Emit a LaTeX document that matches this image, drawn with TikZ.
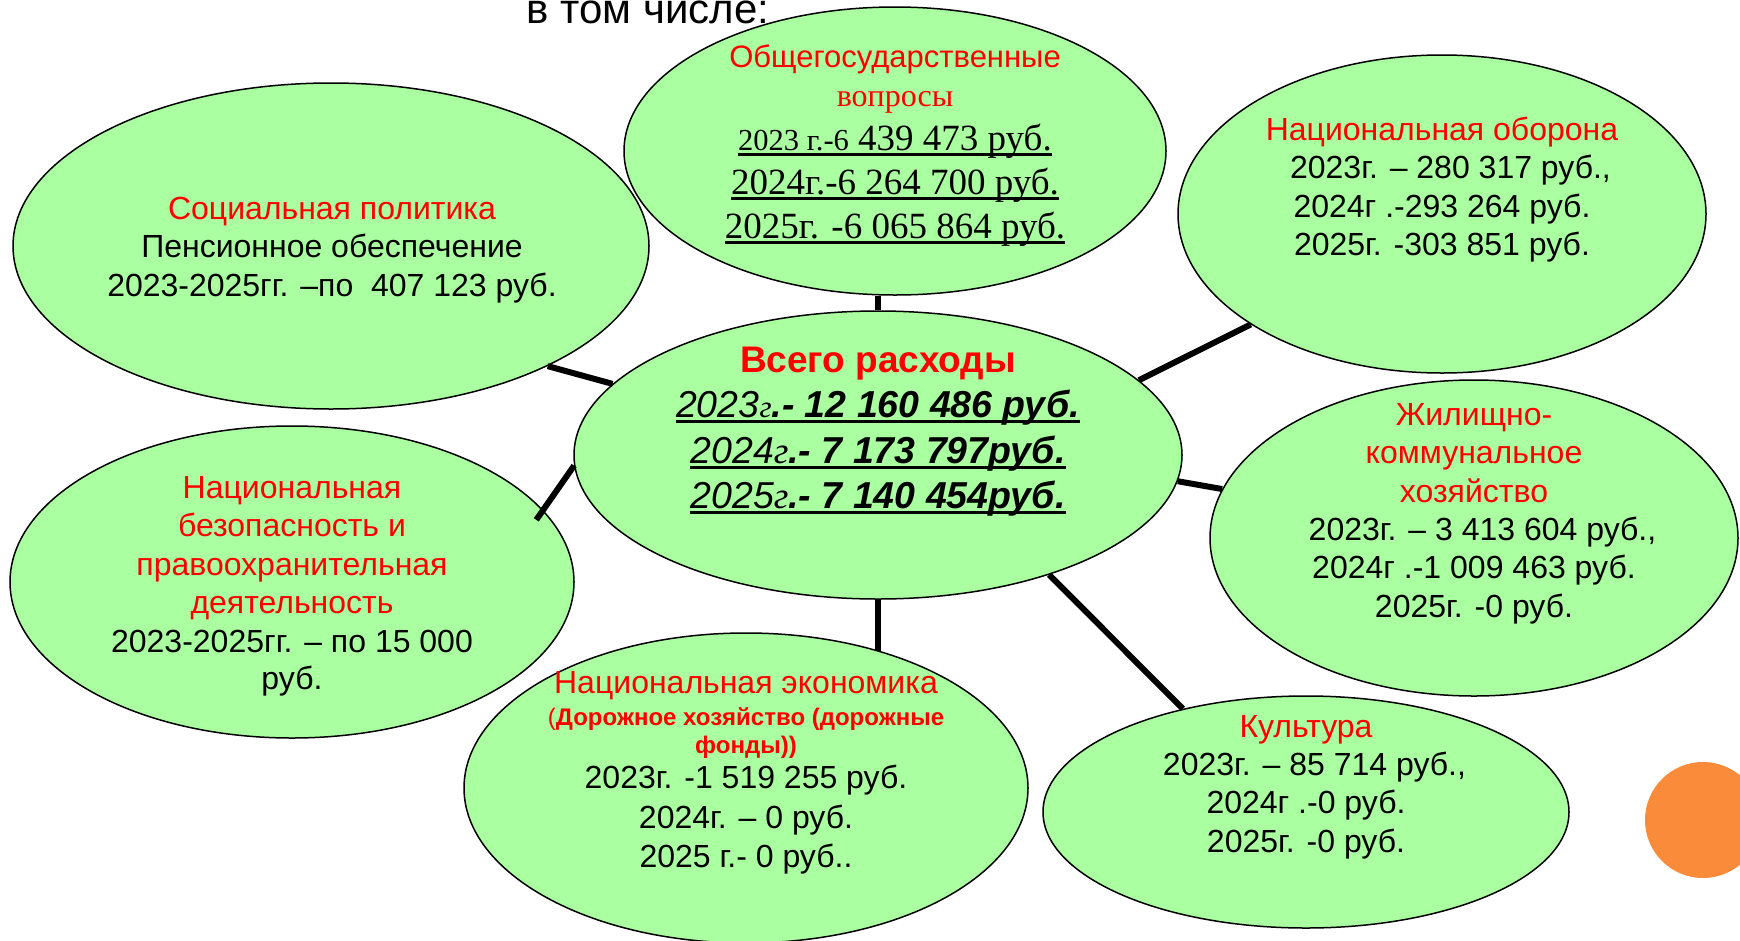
\documentclass[tikz,border=0pt]{standalone}
\usepackage{fontspec}
\setmainfont{Liberation Sans}
\newfontfamily\tmsfont{Liberation Serif}
\usetikzlibrary{shapes.geometric}
\definecolor{bubble}{HTML}{AAFFA0}
\definecolor{hdr}{HTML}{FF0000}
\definecolor{dotcol}{HTML}{F98B3A}
\newcommand\ulx[1]{\setbox0=\hbox{#1}\rlap{\rule[-0.16em]{\wd0}{0.07em}}\box0}
\begin{document}
\begin{tikzpicture}[x=1pt,y=-1pt,
  bub/.style={ellipse, draw=black, line width=1.5pt, fill=bubble, inner sep=0pt},
  ln/.style={anchor=base, inner sep=0pt, font=\fontsize{32}{38}\selectfont},
  rd/.style={text=hdr},
  link/.style={line width=6pt, black}]
\useasboundingbox (0,0) rectangle (1740,940);
\clip (0,0) rectangle (1740,940);

% bubbles
\node[bub, minimum width=636pt, minimum height=326pt] (soc) at (331,246) {};
\node[bub, minimum width=542pt, minimum height=288pt] (gen) at (895,151) {};
\node[bub, minimum width=528pt, minimum height=318pt] (def) at (1442,214) {};
\node[bub, minimum width=528pt, minimum height=316pt] (hcs) at (1474,538) {};
\node[bub, minimum width=608pt, minimum height=288pt] (tot) at (878,455) {};
\node[bub, minimum width=564pt, minimum height=312pt] (sec) at (292,582) {};
\node[bub, minimum width=564pt, minimum height=310pt] (eco) at (746,788) {};
\node[bub, minimum width=526pt, minimum height=232pt] (cul) at (1306,812) {};
\node[circle, fill=dotcol, minimum size=116pt, inner sep=0pt] (dot) at (1703,820) {};

% connectors
\draw[link] (tot.north) -- (tot.north |- gen.south);
\draw[link] (tot.south) -- (tot.south |- eco.46);
\draw[link] (soc.-29.6) -- (tot.165.7);
\draw[link] (tot.16.8) -- (def.210.6);
\draw[link, shorten <=-12pt] (sec.16.4) -- (tot.182);
\draw[link] (tot.-5.3) -- (hcs.169.9);
\draw[link] (tot.-35.9) -- (cul.140.3);

% heading
\node[ln, font=\fontsize{42}{42}\selectfont] (head) at (648,23) {в том числе:};

% social
\node[ln, rd] (s1) at (332,219) {Социальная политика};
\node[ln] (s2) at (332,257) {Пенсионное обеспечение};
\node[ln] (s3) at (332,296) {2023-2025гг. –по~~407 123 руб.};

% general
\node[ln, rd, font=\fontsize{31}{31}\selectfont] (g1) at (895,67) {Общегосударственные};
\node[ln, rd, font=\tmsfont\fontsize{32}{32}\selectfont] (g2) at (895,106) {вопросы};
\node[ln, font=\tmsfont\fontsize{37}{37}\selectfont] (g3) at (895,150) {\ulx{{\fontsize{30.5}{30}\selectfont 2023 г.-6} 439 473 руб.}};
\node[ln, font=\tmsfont\fontsize{37}{37}\selectfont] (g4) at (895,194) {\ulx{2024г.-6 264 700 руб.}};
\node[ln, font=\tmsfont\fontsize{37}{37}\selectfont] (g5) at (895,238) {\ulx{2025г. -6 065 864 руб.}};

% defense
\node[ln, rd] (d1) at (1442,140) {Национальная оборона};
\node[ln] (d2) at (1442,178) {\hspace*{17pt}2023г. – 280 317 руб.,};
\node[ln] (d3) at (1442,217) {2024г .-293 264 руб.};
\node[ln] (d4) at (1442,255) {2025г. -303 851 руб.};

% total
\node[ln, rd, font=\bfseries\fontsize{37}{37}\selectfont] (t1) at (878,372) {Всего расходы};
\node[ln, font=\fontsize{37.5}{37}\selectfont] (t2) at (878,417) {\ulx{\itshape 2023{\tmsfont\fontsize{31}{30}\selectfont г}\bfseries.- 12 160 486 руб.}};
\node[ln, font=\fontsize{37.5}{37}\selectfont] (t3) at (878,463) {\ulx{\itshape 2024{\tmsfont г}\bfseries.- 7 173 797руб.}};
\node[ln, font=\fontsize{37.5}{37}\selectfont] (t4) at (878,508) {\ulx{\itshape 2025{\tmsfont г}\bfseries.- 7 140 454руб.}};

% security
\node[ln, rd] (e1) at (292,498) {Национальная};
\node[ln, rd] (e2) at (292,536) {безопасность и};
\node[ln, rd] (e3) at (292,575) {правоохранительная};
\node[ln, rd] (e4) at (292,613) {деятельность};
\node[ln] (e5) at (292,652) {2023-2025гг. – по 15 000};
\node[ln] (e6) at (292,689) {руб.};

% housing
\node[ln, rd] (h1) at (1474,425) {Жилищно-};
\node[ln, rd] (h2) at (1474,463) {коммунальное};
\node[ln, rd] (h3) at (1474,502) {хозяйство};
\node[ln] (h4) at (1474,540) {\hspace*{17pt}2023г. – 3 413 604 руб.,};
\node[ln] (h5) at (1474,578) {2024г .-1 009 463 руб.};
\node[ln] (h6) at (1474,617) {2025г. -0 руб.};

% economy
\node[ln, rd] (c1) at (746,693) {Национальная экономика};
\node[ln, rd, font=\bfseries\fontsize{24}{28}\selectfont] (c2) at (746,725) {{\mdseries(}Дорожное хозяйство (дорожные};
\node[ln, rd, font=\bfseries\fontsize{24}{28}\selectfont] (c3) at (746,753) {фонды))};
\node[ln] (c4) at (746,788) {2023г. -1 519 255 руб.};
\node[ln] (c5) at (746,828) {2024г. – 0 руб.};
\node[ln] (c6) at (746,867) {2025 г.- 0 руб..};

% culture
\node[ln, rd] (k1) at (1306,737) {Культура};
\node[ln] (k2) at (1306,775) {\hspace*{17pt}2023г. – 85 714 руб.,};
\node[ln] (k3) at (1306,813) {2024г .-0 руб.};
\node[ln] (k4) at (1306,852) {2025г. -0 руб.};
\end{tikzpicture}
\end{document}
